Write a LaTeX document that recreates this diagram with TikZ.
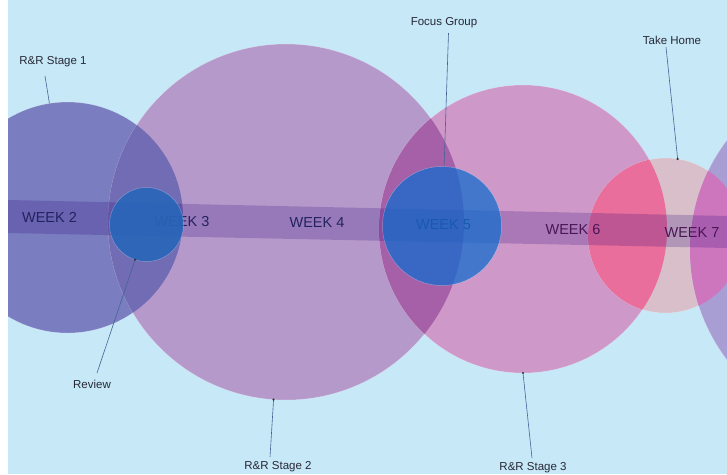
\documentclass[tikz,border=0pt]{standalone}
\usepackage{fontspec}
\setmainfont{Liberation Sans}
\definecolor{bgblue}{RGB}{198,232,247}
\definecolor{sone}{RGB}{122,125,192}
\definecolor{stwo}{RGB}{182,153,203}
\definecolor{sonetwo}{RGB}{114,108,180}
\definecolor{sthree}{RGB}{206,153,201}
\definecolor{stwothree}{RGB}{166,96,168}
\definecolor{thome}{RGB}{216,191,201}
\definecolor{thsthree}{RGB}{233,110,156}
\definecolor{rightc}{RGB}{168,158,212}
\definecolor{thright}{RGB}{205,118,190}
\definecolor{revblue}{RGB}{40,102,185}
\definecolor{focblue}{RGB}{20,108,205}
\definecolor{bandc}{RGB}{45,5,120}
\definecolor{linec}{RGB}{70,100,150}
\definecolor{labc}{RGB}{40,40,55}
\definecolor{weekc}{RGB}{35,35,95}
\definecolor{weekp}{RGB}{75,22,85}
\begin{document}
\begin{tikzpicture}[x=1pt,y=-1pt,
  disc/.style={circle,inner sep=0pt,outer sep=0pt,draw=white,draw opacity=0.3,line width=0.5pt},
  week/.style={font=\fontsize{14.5}{16}\selectfont,text=weekc,inner sep=0pt},
  lab/.style={font=\fontsize{11.5}{13}\selectfont,text=labc,inner sep=0pt},
  conn/.style={draw=linec,line width=0.6pt},
  tipdot/.style={fill=black!80,circle,inner sep=0pt,minimum size=2.4pt}]
\useasboundingbox (0,0) rectangle (727,474);
\fill[bgblue] (0,0) rectangle (727,474);
\fill[white] (0,0) rectangle (8,474);
\begin{scope}
\clip (8,0) rectangle (727,474);
% large circles
\node[disc,fill=sone,minimum size=231pt] (s1) at (67.5,217.5) {};
\node[disc,fill=stwo,minimum size=356pt] (s2) at (286,222) {};
\begin{scope}
\clip (s1.center) circle (115.5pt);
\fill[sonetwo] (s2.center) circle (178pt);
\end{scope}
\node[disc,fill=sthree,minimum size=288pt] (s3) at (523,229) {};
\begin{scope}
\clip (s2.center) circle (178pt);
\fill[stwothree] (s3.center) circle (144pt);
\end{scope}
\node[disc,fill=thome,minimum size=155pt] (th) at (665.5,235.5) {};
\begin{scope}
\clip (s3.center) circle (144pt);
\fill[thsthree] (th.center) circle (77.5pt);
\end{scope}
\node[disc,fill=rightc,minimum size=364pt] (rc) at (872,250) {};
\begin{scope}
\clip (th.center) circle (77.5pt);
\fill[thright] (rc.center) circle (182pt);
\end{scope}
% band
\fill[bandc,fill opacity=0.22] (8,200) -- (727,216) -- (727,248) -- (8,233) -- cycle;
% week labels
\node[week] (w2) at (49.5,217) {WEEK 2};
\node[week] (w3) at (182,221.5) {WEEK 3};
\node[week] (w4) at (317,222.5) {WEEK 4};
\node[week] (w5) at (443.5,225) {WEEK 5};
\node[week,text=weekp] (w6) at (573,229.5) {WEEK 6};
\node[week,text=weekp] (w7) at (692,233) {WEEK 7};
% small circles
\node[disc,fill=revblue,fill opacity=0.9,minimum size=74pt] (rev) at (146.5,224.5) {};
\node[disc,fill=focblue,fill opacity=0.75,minimum size=119pt] (foc) at (442,226) {};
\end{scope}
% labels
\node[lab] (l1) at (53,62) {R\&R Stage 1};
\node[lab] (l2) at (278,467) {R\&R Stage 2};
\node[lab] (l3) at (533,468) {R\&R Stage 3};
\node[lab] (l4) at (444,23) {Focus Group};
\node[lab] (l5) at (672,40) {Take Home};
\node[lab] (l6) at (92,384) {Review};
% connectors
\coordinate (c1) at (45,76);
\coordinate (c2) at (270,457);
\coordinate (c3) at (532,458);
\coordinate (c4) at (448.5,33);
\coordinate (c5) at (666,47);
\coordinate (c6) at (97,373);
\draw[conn] (c1) -- (s1.99);
\draw[conn] (c2) -- (s2.266);
\draw[conn] (c3) -- (s3.270);
\draw[conn] (c4) -- (foc.88);
\draw[conn] (c5) -- (th.81);
\draw[conn] (c6) -- (rev.252);
\node[tipdot] (d2) at (s2.266) {};
\node[tipdot] (d3) at (s3.270) {};
\node[tipdot] (d5) at (th.81) {};
\node[tipdot] (d6) at (rev.252) {};
\end{tikzpicture}
\end{document}
